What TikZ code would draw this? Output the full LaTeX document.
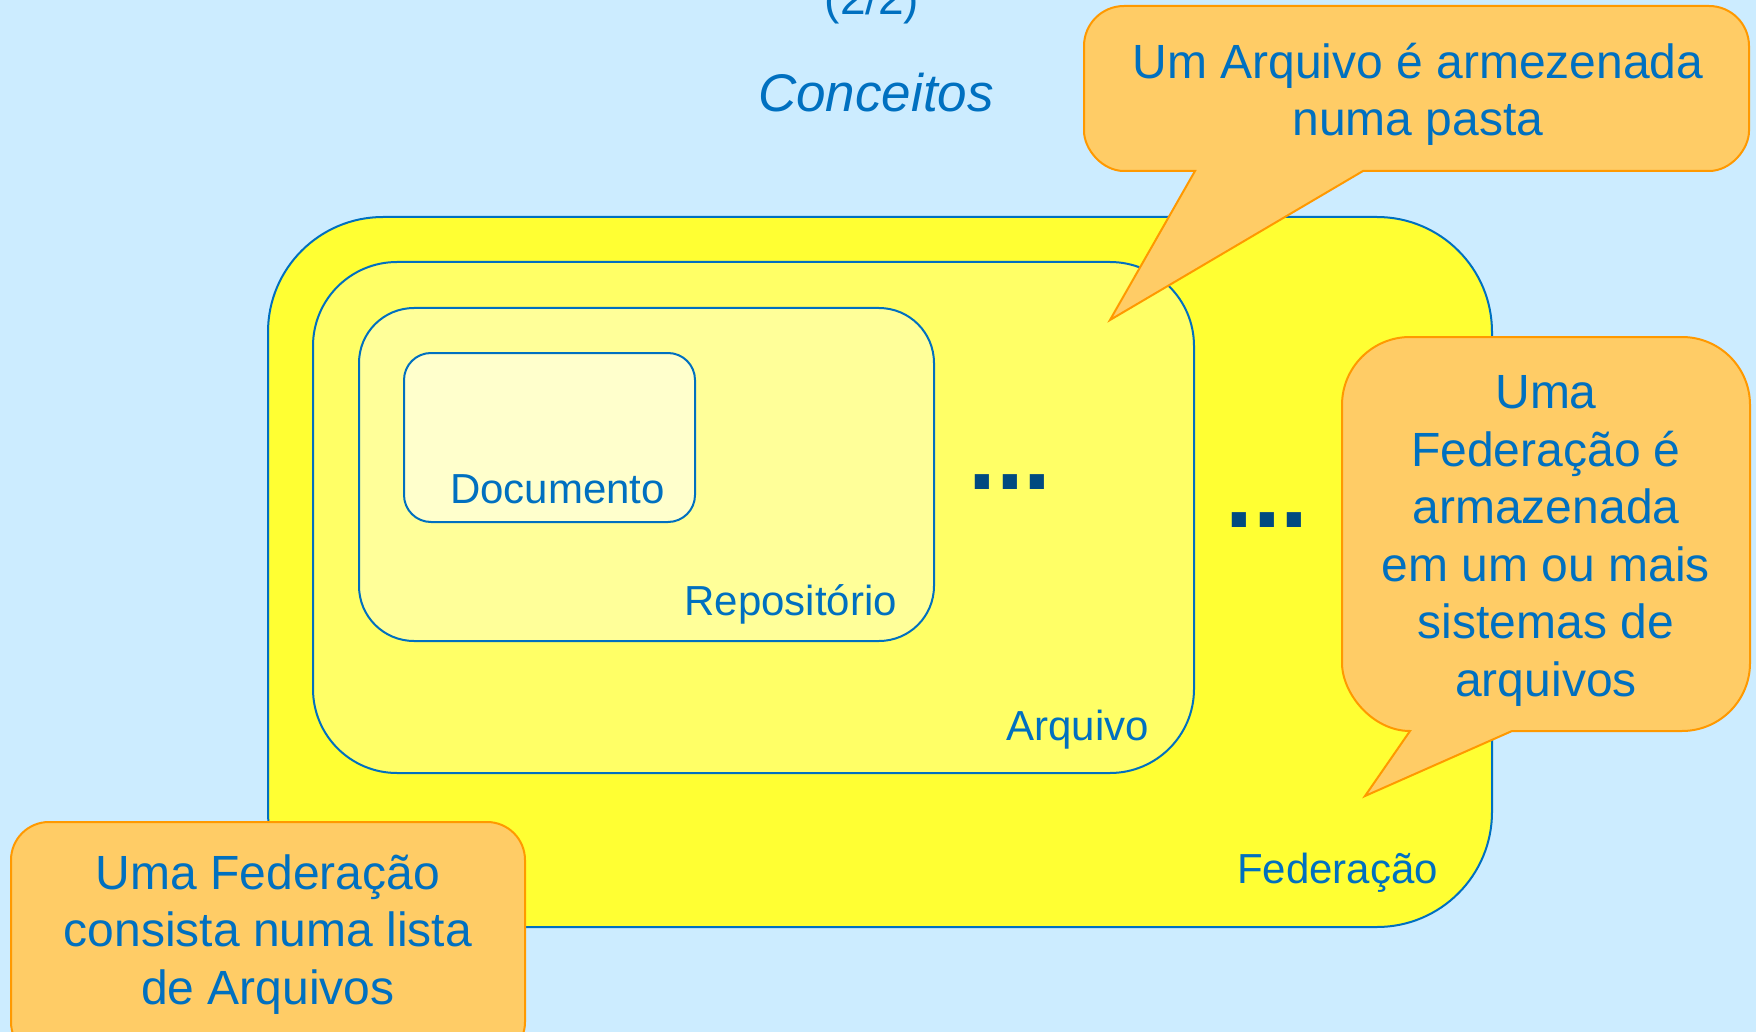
\documentclass[tikz,border=0pt]{standalone}
\usepackage{fontspec}
\setmainfont{Liberation Sans}
\definecolor{bg}{HTML}{CCECFF}
\definecolor{fedfill}{HTML}{FFFF33}
\definecolor{arqfill}{HTML}{FFFF66}
\definecolor{repfill}{HTML}{FFFF99}
\definecolor{docfill}{HTML}{FFFFCC}
\definecolor{boxblue}{HTML}{0070C0}
\definecolor{txtblue}{HTML}{0070C0}
\definecolor{calfill}{HTML}{FFCC66}
\definecolor{calline}{HTML}{FF9900}
\definecolor{dotblue}{HTML}{004A80}
\begin{document}
\begin{tikzpicture}[x=1pt,y=-1pt,
  box/.style={draw=boxblue, line width=2pt, rounded corners=#1, inner sep=0pt, outer sep=0pt},
  lbl/.style={text=txtblue, font=\fontsize{42pt}{50pt}\selectfont, inner sep=0pt, anchor=base east},
  co/.style={fill=calfill, draw=calline, line width=2pt, line join=miter},
  cotext/.style={text=txtblue, font=\fontsize{48pt}{57.5pt}\selectfont, align=center, inner sep=0pt, anchor=base},
  dotstxt/.style={text=dotblue, font=\fontsize{100pt}{100pt}\selectfont\bfseries, inner sep=0pt, anchor=base west}]
\useasboundingbox (0,0) rectangle (1756,1032);
\fill[bg] (0,0) rectangle (1756,1032);
\clip (0,0) rectangle (1756,1032);

% titles
\node[text=txtblue, font=\fontsize{46pt}{50pt}\selectfont, inner sep=0pt, anchor=base] (part) at (872,15) {(2/2)};
\node[text=txtblue, font=\fontsize{53pt}{60pt}\selectfont\itshape, inner sep=0pt, anchor=base] (title) at (876,112) {Conceitos};

% nested boxes
\node[box=115pt, fill=fedfill, minimum width=1224pt, minimum height=710pt] (fed) at (880,572) {};
\node[box=84pt, fill=arqfill, minimum width=881pt, minimum height=511pt] (arq) at (753.5,517.5) {};
\node[box=55pt, fill=repfill, minimum width=575pt, minimum height=333pt] (rep) at (646.5,474.5) {};
\node[box=27pt, fill=docfill, minimum width=291pt, minimum height=169pt] (doc) at (549.5,437.5) {};

% labels
\node[lbl] (docl) at (665,503) {Documento};
\node[lbl] (repl) at (897,615) {Repositório};
\node[lbl] (arql) at (1149,740) {Arquivo};
\node[lbl] (fedl) at (1438,883) {Federação};

% ellipses
\node[dotstxt] (dots1) at (968,489) {...};
\node[dotstxt] (dots2) at (1225,527) {...};

% callout 1
\path[co] (1195,171) -- (1124,171) .. controls (1101.9,171) and (1084,148.9) .. (1084,131)
  -- (1084,46) .. controls (1084,23.9) and (1101.9,6) .. (1124,6)
  -- (1709,6) .. controls (1731.1,6) and (1749,23.9) .. (1749,46)
  -- (1749,131) .. controls (1749,148.9) and (1731.1,171) .. (1709,171)
  -- (1363,171) -- (1110,320) -- cycle;
\node[cotext] (c1) at (1418,136) {Um Arquivo é armezenada\\numa pasta};

% callout 2
\path[co] (1410,731) .. controls (1372.4,731) and (1342,693.4) .. (1342,663)
  -- (1342,405) .. controls (1342,367.4) and (1372.4,337) .. (1410,337)
  -- (1682,337) .. controls (1719.6,337) and (1750,367.4) .. (1750,405)
  -- (1750,663) .. controls (1750,700.6) and (1719.6,731) .. (1682,731)
  -- (1512,731) -- (1365,796) -- cycle;
\node[cotext] (c2) at (1546,696) {Uma\\Federação é\\armazenada\\em um ou mais\\sistemas de\\arquivos};

% callout 3
\path[co, rounded corners=38pt] (11,822) rectangle (525,1060);
\node[cotext] (c3) at (268,1004) {Uma Federação\\consista numa lista\\de Arquivos};
\end{tikzpicture}
\end{document}
